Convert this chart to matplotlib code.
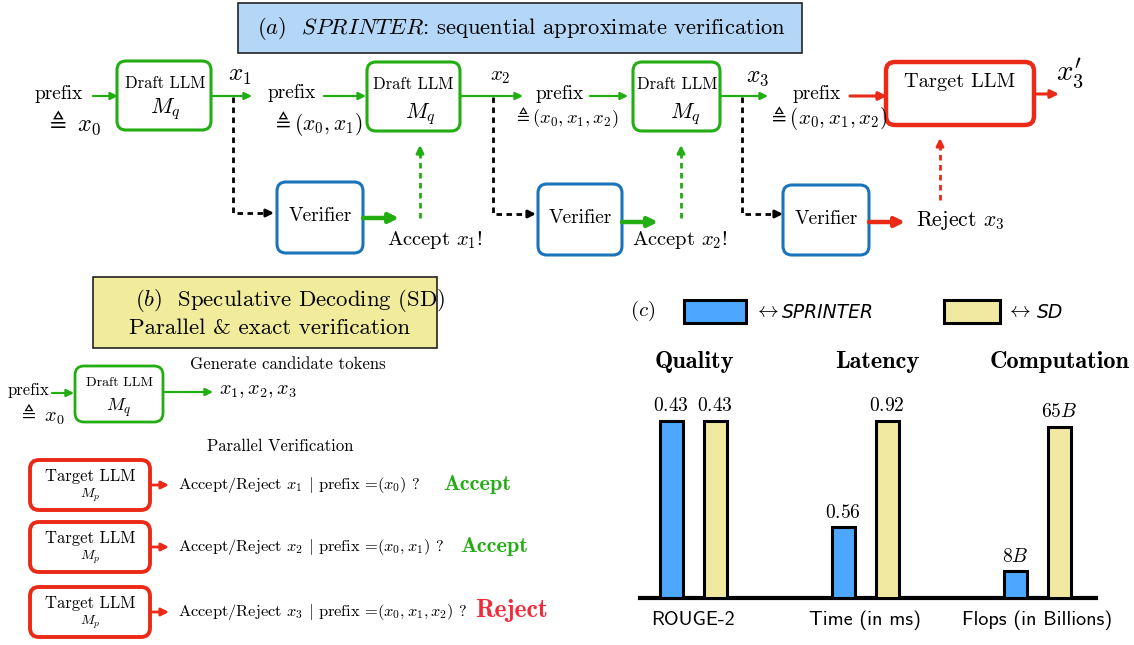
import matplotlib
matplotlib.use("Agg")
import matplotlib.pyplot as plt
from matplotlib.patches import FancyBboxPatch, Rectangle
import numpy as np

plt.rcParams['mathtext.fontset'] = 'cm'
plt.rcParams['axes.formatter.use_mathtext'] = True

# ---------------- data for panel (c) ----------------
categories = ["ROUGE-2", "Time (in ms)", "Flops (in Billions)"]
headers = ["Quality", "Latency", "Computation"]
sprinter_labels = ["$0.43$", "$0.56$", "$8B$"]
sd_labels = ["$0.43$", "$0.92$", "$65B$"]
# displayed bar heights (relative, as drawn in the figure)
sprinter_heights = [1.00, 0.40, 0.15]
sd_heights = [1.00, 1.00, 0.966]
series_names = ["SPRINTER", "SD"]

W, H = 1134, 645
fig = plt.figure(figsize=(W / 100, H / 100), dpi=100)
ax = fig.add_axes([0, 0, 1, 1])
ax.set_xlim(0, W)
ax.set_ylim(H, 0)
ax.axis('off')

GREEN = '#22ad12'
BLUE = '#1a74ba'
RED = '#ea2a16'
RM = 'cmr10'
BF = 'cmb10'
SS = 'cmss10'


def rbox(x0, y0, x1, y1, ec, lw, r=9, fc='white'):
    p = FancyBboxPatch((x0, y0), x1 - x0, y1 - y0,
                       boxstyle=f"round,pad=0,rounding_size={r}",
                       ec=ec, fc=fc, lw=lw, zorder=3)
    ax.add_patch(p)


def arrow(x0, y0, x1, y1, color, lw=1.6, ms=11):
    ax.annotate('', xy=(x1, y1), xytext=(x0, y0),
                arrowprops=dict(arrowstyle='-|>', color=color, lw=lw,
                                mutation_scale=ms, shrinkA=0, shrinkB=0),
                zorder=4)


def dashed_arrow(pts, color, lw=2.0, dash=(2.0, 1.6), ms=11):
    xs = [p[0] for p in pts]
    ys = [p[1] for p in pts]
    horiz = xs[-1] != xs[-2]
    ex = xs[-1] - 6 if horiz else xs[-1]
    ey = ys[-1] if horiz else ys[-1] + 6
    ax.plot(xs[:-1] + [ex], ys[:-1] + [ey], color=color, lw=lw, ls=(0, dash), zorder=2)
    x1, y1 = pts[-1]
    if horiz:
        arrow(x1 - 7, y1, x1, y1, color, lw=lw, ms=ms)
    else:
        arrow(x1, y1 + 7, x1, y1, color, lw=lw, ms=ms)


def t(x, y, s, size, color='black', family=RM, ha='center', va='center', **kw):
    ax.text(x, y, s, fontsize=size, color=color, family=family, ha=ha, va=va, zorder=5, **kw)


# ---------------- panel (a) ----------------
ax.add_patch(Rectangle((238, 3), 564, 50, fc='#b4d7f7', ec='#222222', lw=1.2))
t(521, 28, r"$(a)$  $\mathit{SPRINTER}$: sequential approximate verification", 16.3)

# prefix 0
t(59, 94, "prefix", 14)
t(73, 123, r"$\triangleq\ x_0$", 17.5)
arrow(93, 96, 118, 96, GREEN)
rbox(117, 61, 211, 130, GREEN, 2.2)
t(165, 83, "Draft LLM", 12)
t(165, 109, r"$M_q$", 16)
t(240, 76, r"$x_1$", 18)
arrow(211, 96, 252, 96, GREEN)
dashed_arrow([(233, 97), (233, 213), (274, 213)], 'black')

# prefix 1
t(292, 93, "prefix", 14)
t(318, 123, r"$\triangleq (x_0,x_1)$", 15.5)
arrow(324, 96, 366, 96, GREEN)
rbox(367, 62, 460, 131, GREEN, 2.2)
t(413, 84, "Draft LLM", 12)
t(420, 114, r"$M_q$", 16)
t(500, 77, r"$x_2$", 15)
arrow(460, 96, 523, 96, GREEN)
dashed_arrow([(493, 97), (493, 214), (536, 214)], 'black')

# prefix 2
t(560, 94, "prefix", 14)
t(566, 118, r"$\triangleq (x_0,x_1,x_2)$", 13.4)
arrow(590, 96, 628, 96, GREEN)
rbox(633, 62, 720, 131, GREEN, 2.2)
t(677, 84, "Draft LLM", 12)
t(685, 114, r"$M_q$", 16)
t(758, 77, r"$x_3$", 17)
arrow(720, 96, 768, 96, GREEN)
dashed_arrow([(742, 97), (742, 214), (783, 214)], 'black')

# prefix 3
t(817, 94, "prefix", 14)
t(828, 118, r"$\triangleq (x_0,x_1,x_2)$", 15.2)
arrow(850, 96, 887, 96, RED, lw=2.2, ms=12)
rbox(886, 62, 1034, 125, RED, 3.2)
t(960, 82, "Target LLM", 14.7)
arrow(1034, 94, 1059, 94, RED, lw=2.2, ms=12)
t(1070, 73, r"$x_3^{\prime}$", 21)

# verifiers
for (bx0, bx1, by0, by1, cy) in [(277, 363, 182, 253, 216), (538, 622, 184, 255, 218), (783, 869, 185, 255, 219)]:
    rbox(bx0, by0, bx1, by1, BLUE, 2.2)
    t((bx0 + bx1) / 2, cy, "Verifier", 14)

arrow(363, 218, 399, 218, GREEN, lw=3.2, ms=14)
t(435, 240, r"Accept $x_1$!", 14.8)
dashed_arrow([(420, 218), (420, 145)], GREEN, lw=2.0)

arrow(622, 222, 658, 222, GREEN, lw=3.2, ms=14)
t(680, 240, r"Accept $x_2$!", 14.8)
dashed_arrow([(681, 218), (681, 145)], GREEN, lw=2.0)

arrow(869, 222, 905, 222, RED, lw=3.2, ms=14)
t(960, 220, r"Reject $x_3$", 15.6)
dashed_arrow([(940, 200), (940, 138)], RED, lw=2.0)

# ---------------- panel (b) ----------------
ax.add_patch(Rectangle((93, 277), 344, 71, fc='#f1ec9b', ec='#222222', lw=1.2))
t(290, 300, r"$(b)$  Speculative Decoding (SD)", 16.4)
t(270, 328, "Parallel & exact verification", 16.5)

t(288, 364, "Generate candidate tokens", 12.1)
t(28, 390, "prefix", 12)
t(41, 414, r"$\triangleq\ x_0$", 14.5)
arrow(52, 393, 74, 393, GREEN)
rbox(75, 366, 163, 422, GREEN, 2.0)
t(119, 383, "Draft LLM", 10)
t(119, 408, r"$M_q$", 13)
arrow(163, 392, 213, 392, GREEN)
t(258, 391, r"$x_1, x_2, x_3$", 14.5)

t(280, 446, "Parallel Verification", 12)

rows = [
    (460, 510, r"Accept/Reject $x_1$ $|$ prefix =$(x_0)$ ?", "Accept", GREEN, 477, 16),
    (522, 572, r"Accept/Reject $x_2$ $|$ prefix =$(x_0,x_1)$ ?", "Accept", GREEN, 494, 16),
    (587, 637, r"Accept/Reject $x_3$ $|$ prefix =$(x_0,x_1,x_2)$ ?", "Reject", '#f22b3a', 512, 18.5),
]
for (y0, y1, txt, res, col, rx, rs) in rows:
    cy = (y0 + y1) / 2
    rbox(30, y0, 150, y1, RED, 2.8)
    t(90, y0 + 16, "Target LLM", 12)
    t(90, y0 + 35, r"$M_p$", 10)
    arrow(150, cy, 169, cy, RED, lw=2.0, ms=11)
    t(178, cy, txt, 11.8, ha='left')
    t(rx, cy - 1, res, rs, color=col, family=BF)

# ---------------- panel (c) ----------------
BAR_BLUE = '#4da6ff'
BAR_YEL = '#f1e8a2'
t(643, 311, r"$(c)$", 15)
ax.add_patch(Rectangle((684, 300), 62, 23, fc=BAR_BLUE, ec='black', lw=2.2))
t(754, 312, r"$\leftrightarrow$", 15, ha='left')
t(782, 312, series_names[0], 13.5, ha='left', family='DejaVu Sans', style='italic')
ax.add_patch(Rectangle((944, 300), 56, 23, fc=BAR_YEL, ec='black', lw=2.2))
t(1006, 312, r"$\leftrightarrow$", 15, ha='left')
t(1037, 312, series_names[1], 13.5, ha='left', family='DejaVu Sans', style='italic')

for hx, hs in zip([694, 877, 1060], headers):
    t(hx, 362, hs, 17.5, family=BF)

# bar axes: baseline at y=598, x from 640 to 1096
base_y, top_y = 598, 380
axc = fig.add_axes([640 / W, 1 - base_y / H, (1096 - 640) / W, (base_y - top_y) / H])
px_per_unit = 172.0
unit_h = 177.0
axc.set_xlim(-(693 - 640) / px_per_unit, (1096 - 693) / px_per_unit)
axc.set_ylim(0, (base_y - top_y) / unit_h)
axc.patch.set_alpha(0)
for s in ['top', 'right', 'left']:
    axc.spines[s].set_visible(False)
axc.spines['bottom'].set_linewidth(3)
axc.set_yticks([])
axc.set_xticks([])

x = np.arange(len(categories))
bw = 23 / px_per_unit
off = 22 / px_per_unit
b1 = axc.bar(x - off, sprinter_heights, bw, color=BAR_BLUE, edgecolor='black', lw=2.2, zorder=3)
b2 = axc.bar(x + off, sd_heights, bw, color=BAR_YEL, edgecolor='black', lw=2.2, zorder=3)
for bars, labs in [(b1, sprinter_labels), (b2, sd_labels)]:
    for b, lab in zip(bars, labs):
        axc.annotate(lab, (b.get_x() + b.get_width() / 2, b.get_height()),
                     xytext=(0, 4), textcoords='offset points', ha='center', va='bottom',
                     fontsize=14, family=RM, annotation_clip=False)
for xi, cat in zip(x, categories):
    axc.annotate(cat, (xi, 0), xytext=(0, -16), textcoords='offset points',
                 ha='center', va='center', fontsize=14.5, family=SS, annotation_clip=False)

fig.savefig("out.png", dpi=100)
